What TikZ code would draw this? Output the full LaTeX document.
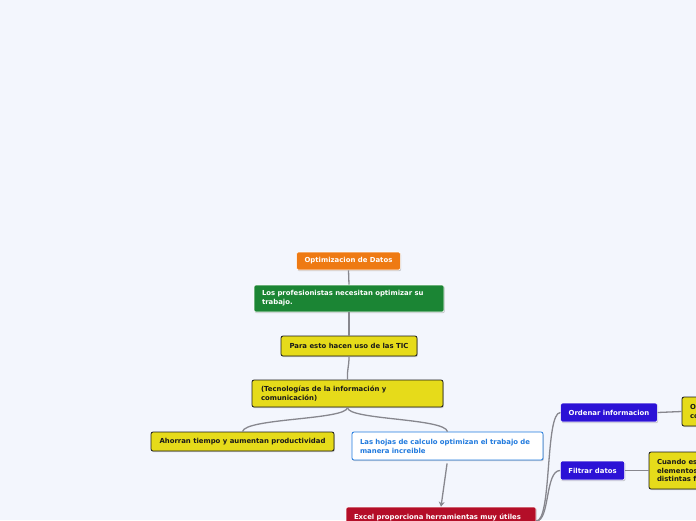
\documentclass[tikz,border=0pt]{standalone}
\usepackage{fontspec}
\setmainfont{DejaVu Sans}
\usetikzlibrary{shadows,arrows.meta}
\definecolor{bg}{RGB}{243,246,253}
\definecolor{corange}{RGB}{238,122,19}
\definecolor{cgreen}{RGB}{27,133,52}
\definecolor{cyellow}{RGB}{230,219,26}
\definecolor{cpurple}{RGB}{44,18,214}
\definecolor{cred}{RGB}{180,14,40}
\definecolor{cblue}{RGB}{32,122,222}
\definecolor{linec}{RGB}{135,135,142}
\definecolor{ink}{RGB}{25,25,25}
\begin{document}
\begin{tikzpicture}[x=1pt,y=-1pt,
  box/.style={rectangle, rounded corners=2pt, inner xsep=8pt, inner ysep=0pt,
    font=\fontsize{6.9}{8.9}\selectfont\bfseries,
    drop shadow={shadow xshift=0.8pt,shadow yshift=-1.2pt,opacity=0.3,fill=black!60}},
  colbox/.style={box, draw=white, line width=0.6pt, text=white},
  ybox/.style={box, fill=cyellow, draw=ink, line width=0.8pt, text=ink},
  conn/.style={draw=linec, line width=1.3pt},
  arr/.style={conn, -{Stealth[length=5pt,width=6pt]}}
]
\fill[bg] (0,0) rectangle (696,520);
\clip (0,0) rectangle (696,520);

\node[colbox, fill=corange, minimum width=103pt, minimum height=18pt] (opt) at (348.5,261) {Optimizacion de Datos};
\node[colbox, fill=cgreen, minimum width=190pt, minimum height=27pt, text width=174pt, align=left] (prof) at (349,298.5) {Los profesionistas necesitan optimizar su\\trabajo.};
\node[ybox, minimum width=136pt, minimum height=20pt] (tic) at (349,346) {Para esto hacen uso de las TIC};
\node[ybox, minimum width=191pt, minimum height=27pt, inner xsep=9pt, text width=173pt, align=left] (tec) at (347.5,393.5) {(Tecnologías de la información y\\comunicación)};
\node[ybox, minimum width=183pt, minimum height=19pt] (aho) at (242.5,441.5) {Ahorran tiempo y aumentan productividad};
\node[box, fill=white, draw=cblue, line width=0.8pt, text=cblue, minimum width=191pt, minimum height=28pt, text width=175pt, align=left] (hoj) at (447.5,446) {Las hojas de calculo optimizan el trabajo de\\manera increible};
\node[colbox, fill=cred, minimum width=190pt, minimum height=28pt, text width=174pt, align=left] (exc) at (441,521) {Excel proporciona herramientas muy útiles\\\mbox{}};
\node[colbox, fill=cpurple, minimum width=96pt, minimum height=19pt] (ord) at (609,412.5) {Ordenar informacion};
\node[colbox, fill=cpurple, minimum width=63pt, minimum height=19pt] (fil) at (592.5,470.5) {Filtrar datos};
\node[ybox, minimum width=150pt, minimum height=29pt, text width=134pt, align=left] (ordd) at (757,411.5) {Ordena los datos\\con criterios};
\node[ybox, minimum width=190pt, minimum height=37pt, text width=174pt, align=left] (cua) at (744,470.5) {Cuando es necesario ver\\elementos que cumplen\\distintas formas};

\draw[conn] (opt.south) -- (prof.north);
\draw[conn] (prof.south) -- (tic.north);
\draw[conn] (tic.south) .. controls (349,368) and (347,368) .. (tec.north);
\draw[conn] (tec.south) .. controls (347,420) and (245,418) .. (aho.north);
\draw[conn] (tec.south) .. controls (347,420) and (445,418) .. (hoj.north);
\draw[arr, shorten <=3pt] (hoj.south) -- (exc.north);
\draw[conn] (exc.east) .. controls (552,521) and (545,412.5) .. (ord.west);
\draw[conn] (exc.east) .. controls (550,521) and (545,470.5) .. (fil.west);
\draw[conn] (ord.east) -- (ordd.west);
\draw[conn] (fil.east) -- (cua.west);
\end{tikzpicture}
\end{document}
